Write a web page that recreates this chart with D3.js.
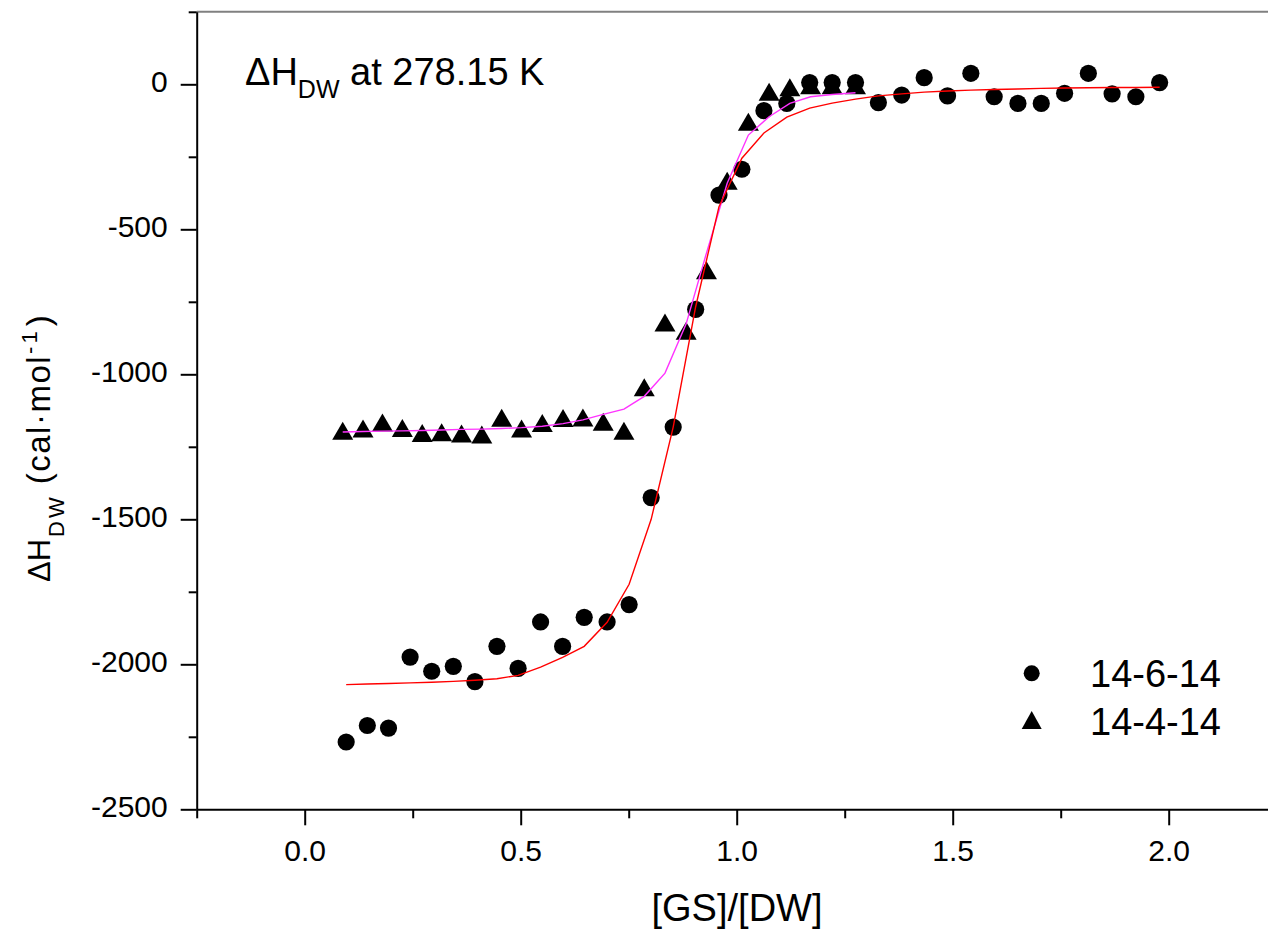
<!DOCTYPE html>
<html>
<head>
<meta charset="utf-8">
<script src="https://cdn.jsdelivr.net/npm/d3@7"></script>
<style>
  html, body { margin: 0; padding: 0; background: #fff; }
  svg { display: block; font-family: "Liberation Sans", Arial, sans-serif; }
</style>
</head>
<body>
<svg id="chart" width="1268" height="934"></svg>
<script>
// 14-6-14 : measured points and fitted curve
const gs6 = [0.096, 0.145, 0.194, 0.244, 0.294, 0.344, 0.394, 0.445, 0.494, 0.546,
  0.597, 0.647, 0.700, 0.751, 0.802, 0.853, 0.905, 0.959, 1.012, 1.063,
  1.116, 1.169, 1.221, 1.275, 1.328, 1.382, 1.434, 1.488, 1.542, 1.596,
  1.651, 1.705, 1.759, 1.814, 1.869, 1.924, 1.979];
const dh6 = [-2268, -2211, -2220, -1975, -2024, -2007, -2060, -1938, -2014, -1854,
  -1938, -1838, -1854, -1794, -1425, -1182, -776, -382, -293, -91,
  -66, 6, 6, 6, -63, -37, 23, -40, 38, -43,
  -66, -66, -31, 38, -33, -43, 6];
const fit6 = [-2070, -2068, -2066, -2064, -2062, -2059, -2055, -2050, -2038, -2010,
  -1976, -1938, -1855, -1724, -1500, -1182, -767, -422, -255, -168,
  -113, -82, -65, -51, -40, -33, -27, -23, -20, -18,
  -16, -14, -13, -12, -11, -11, -10];

// 14-4-14 : measured points and fitted curve
const gs4 = [0.088, 0.135, 0.180, 0.226, 0.272, 0.317, 0.363, 0.410, 0.456, 0.502,
  0.550, 0.598, 0.644, 0.691, 0.739, 0.786, 0.834, 0.883, 0.930, 0.978,
  1.027, 1.075, 1.123, 1.171, 1.221, 1.275];
const dh4 = [-1195, -1187, -1166, -1185, -1202, -1200, -1204, -1208, -1150, -1187,
  -1168, -1151, -1149, -1164, -1195, -1045, -821, -850, -641, -333,
  -129, -26, -10, -3, -3, -3];
const fit4 = [-1199, -1197, -1196, -1195, -1194, -1192, -1190, -1189, -1187, -1184,
  -1179, -1170, -1157, -1138, -1120, -1076, -996, -826, -582, -341,
  -175, -112, -66, -43, -35, -29];

const xMajor = [0, 0.5, 1.0, 1.5, 2.0];
const xMinor = [-0.25, 0.25, 0.75, 1.25, 1.75, 2.25];
const yMajor = [-2500, -2000, -1500, -1000, -500, 0];
const yMinor = [-2250, -1750, -1250, -750, -250, 250];

const seriesNames = ["14-6-14", "14-4-14"];

const svg = d3.select("#chart");

const x = d3.scaleLinear().domain([-0.25, 2.25]).range([196.7, 1276.7]);
const y = d3.scaleLinear().domain([-2500, 250]).range([809.3, 11.8]);

// frame top line (grey)
svg.append("line")
  .attr("x1", x(-0.25)).attr("x2", 1268)
  .attr("y1", y(250)).attr("y2", y(250))
  .attr("stroke", "#808080").attr("stroke-width", 2);

// y axis
const gY = svg.append("g").attr("transform", `translate(${x(-0.25)},0)`);
gY.call(d3.axisLeft(y).tickValues(yMajor).tickSize(16).tickPadding(13)
  .tickSizeOuter(0).tickFormat(d => String(d)));
gY.append("g").call(d3.axisLeft(y).tickValues(yMinor).tickSize(8).tickFormat(""))
  .select(".domain").remove();

// x axis
const gX = svg.append("g").attr("transform", `translate(0,${y(-2500)})`);
gX.call(d3.axisBottom(x).tickValues(xMajor).tickSize(16).tickPadding(14)
  .tickSizeOuter(0).tickFormat(d => d.toFixed(1)));
gX.append("g").call(d3.axisBottom(x).tickValues(xMinor).tickSize(9).tickFormat(""))
  .select(".domain").remove();

svg.selectAll(".domain").attr("stroke", "#000").attr("stroke-width", 2);
svg.selectAll(".tick line").attr("stroke", "#000").attr("stroke-width", 2);
svg.selectAll(".tick text").attr("fill", "#000").attr("font-size", 30)
  .attr("font-family", "Liberation Sans, Arial, sans-serif");
gY.selectAll(".tick text").attr("dy", "0.25em");

// markers
const tri = (cx, cy, w, h) =>
  `M${cx},${cy - h / 2}L${cx + w / 2},${cy + h / 2}L${cx - w / 2},${cy + h / 2}Z`;

svg.append("g").selectAll("path")
  .data(gs4.map((g, i) => [g, dh4[i]]))
  .join("path")
  .attr("d", d => tri(x(d[0]), y(d[1]), 21, 18))
  .attr("fill", "#000");

svg.append("g").selectAll("circle")
  .data(gs6.map((g, i) => [g, dh6[i]]))
  .join("circle")
  .attr("cx", d => x(d[0]))
  .attr("cy", d => y(d[1]))
  .attr("r", 8.6)
  .attr("fill", "#000");

// fitted curves
const line = d3.line().x(d => x(d[0])).y(d => y(d[1]));

svg.append("path")
  .datum(gs4.map((g, i) => [g, fit4[i]]))
  .attr("d", line)
  .attr("fill", "none").attr("stroke", "#ff33ff").attr("stroke-width", 1.4);

svg.append("path")
  .datum(gs6.map((g, i) => [g, fit6[i]]))
  .attr("d", line)
  .attr("fill", "none").attr("stroke", "#ff0000").attr("stroke-width", 1.4);

// annotation
const note = svg.append("text").attr("x", 245).attr("y", 85)
  .attr("font-size", 38).attr("fill", "#000");
note.append("tspan").text("\u0394H");
note.append("tspan").attr("font-size", 25).attr("dy", 13).text("DW");
note.append("tspan").attr("dy", -13).text(" at 278.15 K");

// legend
const legend = svg.append("g");
legend.append("circle").attr("cx", 1031.7).attr("cy", 673.3).attr("r", 8).attr("fill", "#000");
legend.append("path").attr("d", tri(1031.7, 720, 20, 18)).attr("fill", "#000");
legend.selectAll("text.lbl")
  .data(seriesNames)
  .join("text")
  .attr("class", "lbl")
  .attr("x", 1090)
  .attr("y", (d, i) => 686.7 + i * 48.3)
  .attr("font-size", 38)
  .attr("fill", "#000")
  .text(d => d);

// axis titles
svg.append("text")
  .attr("x", 737).attr("y", 921)
  .attr("text-anchor", "middle")
  .attr("font-size", 38).attr("fill", "#000")
  .text("[GS]/[DW]");

const yt = svg.append("text")
  .attr("transform", "translate(50,582) rotate(-90)")
  .attr("font-size", 31).attr("fill", "#000");
yt.append("tspan").text("\u0394H");
yt.append("tspan").attr("font-size", 22).attr("dy", 14).attr("dx", 2)
  .attr("letter-spacing", 3).text("DW");
yt.append("tspan").attr("font-size", 33).attr("dy", -14).attr("dx", 10)
  .attr("letter-spacing", 1.5).text("(cal\u00b7mol");
yt.append("tspan").attr("font-size", 22).attr("dy", -13).attr("dx", 1)
  .attr("letter-spacing", 3).text("-1");
yt.append("tspan").attr("font-size", 33).attr("dy", 13).attr("dx", 2).text(")");
</script>
</body>
</html>
